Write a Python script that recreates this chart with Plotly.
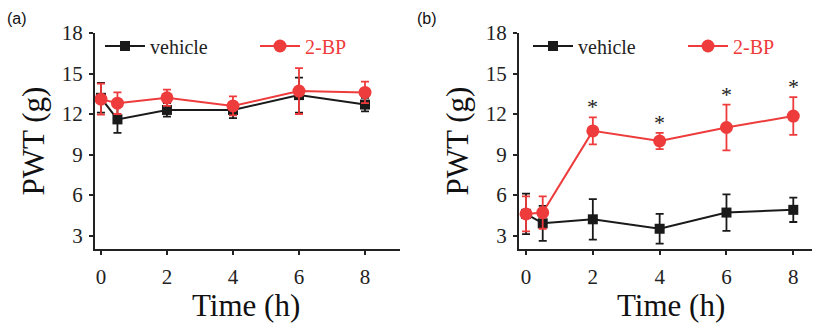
import plotly.graph_objects as go

time_h = [0, 0.5, 2, 4, 6, 8]

# Panel (a)
a_vehicle = [13.2, 11.6, 12.3, 12.3, 13.4, 12.7]
a_vehicle_err = [1.1, 1.0, 0.5, 0.6, 1.3, 0.5]
a_bp = [13.1, 12.8, 13.2, 12.6, 13.7, 13.6]
a_bp_err = [1.15, 0.8, 0.6, 0.7, 1.7, 0.8]

# Panel (b)
b_vehicle = [4.6, 3.9, 4.2, 3.5, 4.7, 4.9]
b_vehicle_err = [1.5, 1.3, 1.5, 1.1, 1.35, 0.9]
b_bp = [4.6, 4.7, 10.75, 10.0, 11.0, 11.85]
b_bp_err = [1.3, 1.2, 1.0, 0.6, 1.7, 1.4]

sig_times = [2, 4, 6, 8]

y_ticks = [3, 6, 9, 12, 15, 18]
x_ticks = [0, 2, 4, 6, 8]

BLACK = "#1a1a1a"
RED = "#ee3b3b"
SERIF = "Liberation Serif, Times New Roman, serif"

W, H = 813, 324
fig = go.Figure()

def add_panel(xa, ya, veh, veh_err, bp, bp_err, legend):
    fig.add_trace(go.Scatter(
        x=time_h, y=veh, mode="lines+markers", name="vehicle",
        xaxis=xa, yaxis=ya, legend=legend,
        line=dict(color=BLACK, width=2),
        marker=dict(symbol="square", size=10, color=BLACK),
        error_y=dict(type="data", array=veh_err, color=BLACK, thickness=1.8, width=4),
    ))
    fig.add_trace(go.Scatter(
        x=time_h, y=bp, mode="lines+markers",
        name='<span style="color:%s">2-BP</span>' % RED,
        xaxis=xa, yaxis=ya, legend=legend,
        line=dict(color=RED, width=2),
        marker=dict(symbol="circle", size=13, color=RED),
        error_y=dict(type="data", array=bp_err, color=RED, thickness=1.8, width=4),
    ))

add_panel("x", "y", a_vehicle, a_vehicle_err, a_bp, a_bp_err, "legend")
add_panel("x2", "y2", b_vehicle, b_vehicle_err, b_bp, b_bp_err, "legend2")

ydom = [1 - 249 / H, 1 - 33 / H]
xdom_a = [95 / W, 400 / W]
xdom_b = [519 / W, 812 / W]
axis_common = dict(
    showgrid=False, zeroline=False, showline=True, linecolor="#222", linewidth=2,
    ticks="outside", ticklen=4, tickwidth=2, tickcolor="#222", automargin=False,
    tickfont=dict(family=SERIF, size=21, color="#222"),
)
ytitle = dict(text="PWT (g)", font=dict(family=SERIF, size=31, color="#111"), standoff=8)
fig.update_layout(
    xaxis=dict(domain=xdom_a, range=[-0.18, 9.06], tickvals=x_ticks,
               anchor="y", ticklabelstandoff=4, **axis_common),
    yaxis=dict(domain=ydom, range=[2, 18], tickvals=y_ticks, anchor="x",
               title=ytitle, ticklabelstandoff=2, **axis_common),
    xaxis2=dict(domain=xdom_b, range=[-0.21, 8.56], tickvals=x_ticks,
                anchor="y2", ticklabelstandoff=4, **axis_common),
    yaxis2=dict(domain=ydom, range=[2, 18], tickvals=y_ticks, anchor="x2",
                title=ytitle, ticklabelstandoff=2, **axis_common),
)

# x-axis titles (placed as paper annotations so they can sit near the bottom edge)
for cx in (246, 671):
    fig.add_annotation(x=cx / W, y=1 - 305 / H, xref="paper", yref="paper", text="Time (h)",
                       showarrow=False, xanchor="center", yanchor="middle",
                       font=dict(family=SERIF, size=31, color="#111"))

# significance asterisks above 2-BP error bars in panel (b)
for t in sig_times:
    i = time_h.index(t)
    fig.add_annotation(x=t, y=b_bp[i] + b_bp_err[i], xref="x2", yref="y2",
                       text="*", showarrow=False, yanchor="bottom", yshift=-4,
                       font=dict(family=SERIF, size=22, color="#222"))

# panel labels
for lbl, px in (("(a)", 5), ("(b)", 415)):
    fig.add_annotation(x=px / W, y=1 - 18 / H, xref="paper", yref="paper", text=lbl,
                       showarrow=False, xanchor="left", yanchor="middle",
                       font=dict(family="Liberation Sans, Arial, sans-serif", size=16, color="#111"))

legend_common = dict(orientation="h", bgcolor="rgba(0,0,0,0)", yanchor="middle",
                     font=dict(family=SERIF, size=20, color="#222"),
                     entrywidth=100, entrywidthmode="pixels", itemwidth=40)
fig.update_layout(
    legend=dict(x=100 / W, y=1 - 46 / H, xanchor="left", **legend_common),
    legend2=dict(x=528 / W, y=1 - 46 / H, xanchor="left", **legend_common),
    width=W, height=H, margin=dict(l=0, r=0, t=0, b=0, autoexpand=False),
    plot_bgcolor="white", paper_bgcolor="white", showlegend=True,
)

fig.write_html("out.html", config={"displayModeBar": False},
               post_script="document.body.style.margin='0';document.body.style.padding='0';")
